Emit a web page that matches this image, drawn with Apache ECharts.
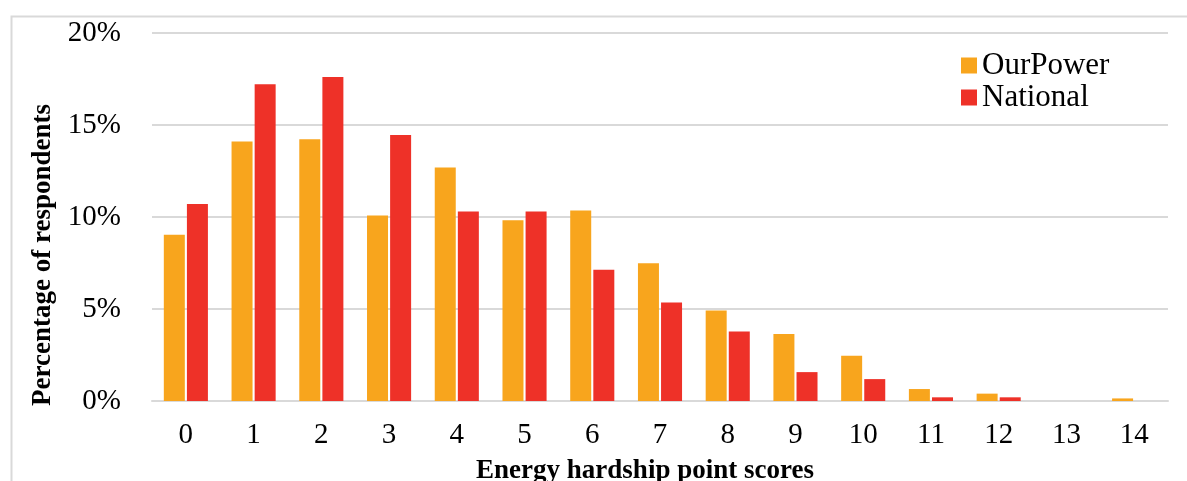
<!DOCTYPE html>
<html>
<head>
<meta charset="utf-8">
<script src="https://cdn.jsdelivr.net/npm/echarts@6/dist/echarts.min.js"></script>
<style>
  html, body { margin: 0; padding: 0; background: #fff; }
  #chart { width: 1187px; height: 481px; }
</style>
</head>
<body>
<div id="chart"></div>
<script>
// Energy hardship point scores (0–14)
const scores = ['0','1','2','3','4','5','6','7','8','9','10','11','12','13','14'];
// Share of respondents at each score, in percent
const ourPower = [9.03, 14.10, 14.23, 10.08, 12.69, 9.83, 10.35, 7.49, 4.92, 3.64, 2.46, 0.65, 0.40, 0, 0.14];
const national = [10.70, 17.21, 17.61, 14.46, 10.30, 10.30, 7.13, 5.36, 3.78, 1.57, 1.19, 0.20, 0.20, 0, 0];
const yTicks = [0, 5, 10, 15, 20];

const serif = '"Liberation Serif", "Times New Roman", serif';
const chart = echarts.init(document.getElementById('chart'), null, { renderer: 'canvas' });

chart.setOption({
  animation: false,
  backgroundColor: '#ffffff',
  grid: { left: 152, right: 19, top: 33, bottom: 80 },
  legend: {
    orient: 'vertical',
    left: 956,
    top: 45,
    itemWidth: 16,
    itemHeight: 16,
    itemGap: 1,
    icon: 'rect',
    textStyle: { fontFamily: serif, fontSize: 31, color: '#000', lineHeight: 31 },
    data: ['OurPower', 'National']
  },
  xAxis: {
    type: 'category',
    data: scores,
    axisLine: { show: true, lineStyle: { color: '#d9d9d9', width: 2 } },
    axisTick: { show: false },
    axisLabel: { fontFamily: serif, fontSize: 29, color: '#000', margin: 20 }
  },
  yAxis: {
    type: 'value',
    min: yTicks[0],
    max: yTicks[yTicks.length - 1],
    interval: 5,
    axisLine: { show: false },
    axisTick: { show: false },
    splitLine: { lineStyle: { color: '#d9d9d9', width: 2 } },
    axisLabel: { fontFamily: serif, fontSize: 29, color: '#000', margin: 31, formatter: '{value}%' }
  },
  series: [
    {
      name: 'OurPower', type: 'bar', data: ourPower,
      barWidth: 21, barGap: '10%',
      itemStyle: { color: '#f8a51d' }
    },
    {
      name: 'National', type: 'bar', data: national,
      barWidth: 21,
      itemStyle: { color: '#ee3128' }
    }
  ],
  graphic: [
    {
      type: 'rect', left: 9, top: 14, silent: true, z: -1,
      shape: { width: 1300, height: 600 },
      style: { fill: 'none', stroke: '#d9d9d9', lineWidth: 2 }
    },
    {
      type: 'text', x: 43, y: 255, rotation: Math.PI / 2,
      style: {
        text: 'Percentage of respondents', fontFamily: serif, fontSize: 27, fontWeight: 'bold',
        fill: '#000', align: 'center', verticalAlign: 'middle'
      }
    },
    {
      type: 'text', x: 645, y: 471,
      style: {
        text: 'Energy hardship point scores', fontFamily: serif, fontSize: 27, fontWeight: 'bold',
        fill: '#000', align: 'center', verticalAlign: 'middle'
      }
    }
  ]
});
</script>
</body>
</html>
